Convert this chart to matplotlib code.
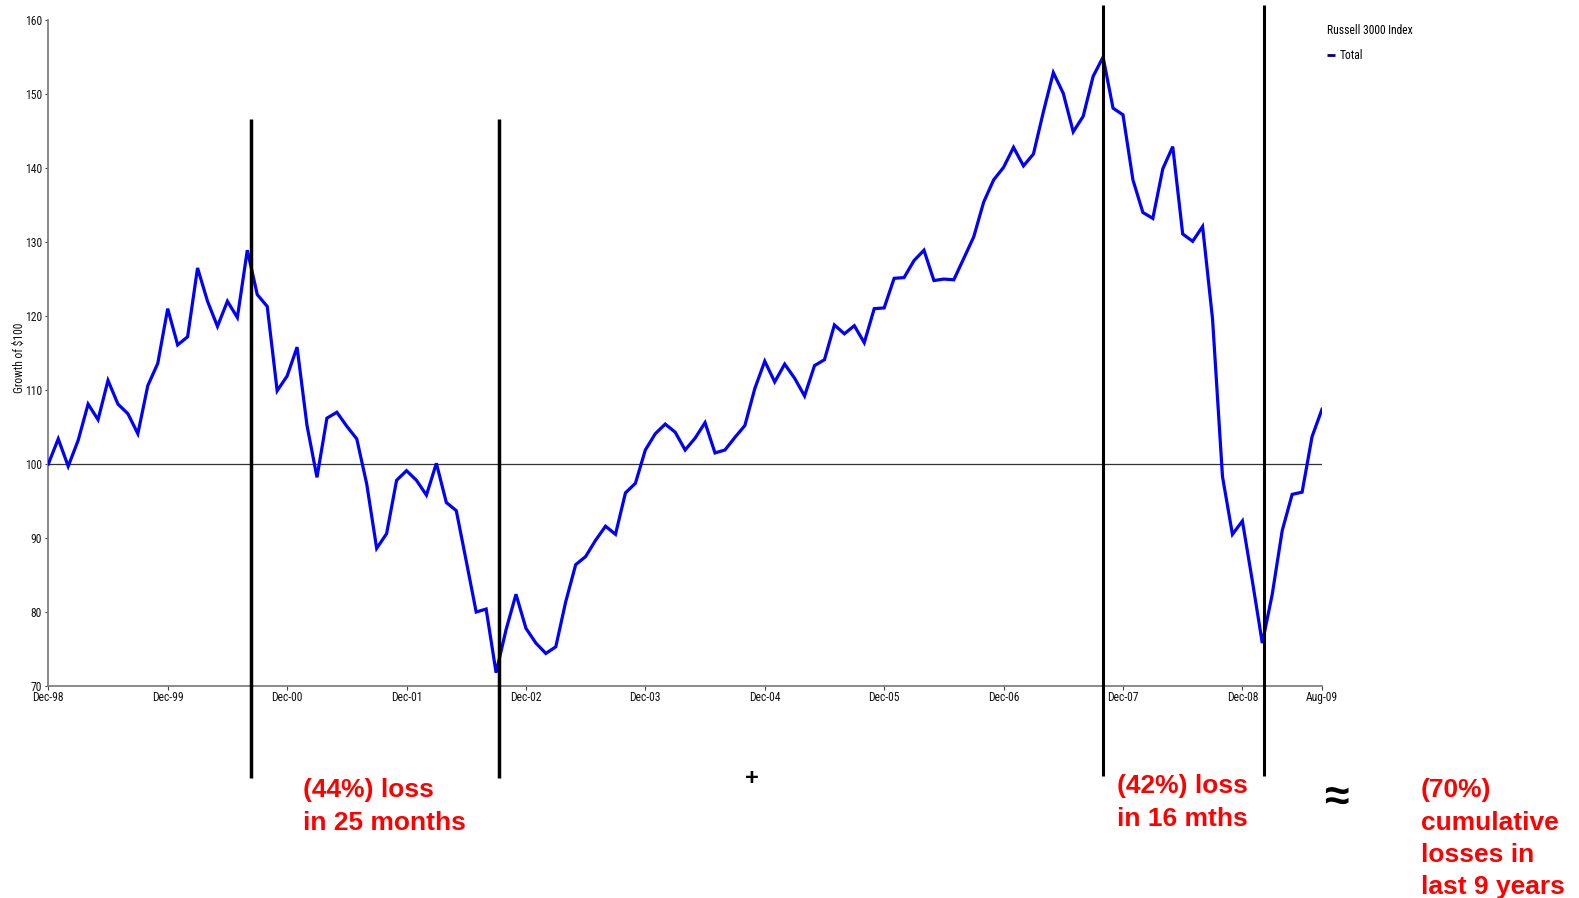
import matplotlib
matplotlib.use("Agg")
import matplotlib.pyplot as plt
from matplotlib.lines import Line2D
from matplotlib import font_manager

# ---------------- data ----------------
# Russell 3000 Index, growth of $100, monthly from Dec-98 to Aug-09
growth_values = [
    100.0, 103.4, 99.7, 103.2, 108.1, 106.0, 111.3, 108.1, 106.8, 104.1,
    110.6, 113.6, 121.0, 116.1, 117.2, 126.5, 122.0, 118.6, 122.0, 119.8,
    128.9, 122.9, 121.3, 109.9, 111.9, 115.8, 105.2, 98.2, 106.2, 107.0,
    105.1, 103.4, 97.3, 88.6, 90.6, 97.8, 99.1, 97.8, 95.8, 100.1,
    94.8, 93.7, 86.9, 80.0, 80.4, 71.8, 77.6, 82.4, 77.8, 75.8,
    74.4, 75.3, 81.4, 86.4, 87.5, 89.7, 91.6, 90.5, 96.1, 97.4,
    101.9, 104.1, 105.4, 104.3, 101.9, 103.5, 105.6, 101.5, 101.9, 103.6,
    105.2, 110.2, 113.9, 111.1, 113.5, 111.6, 109.2, 113.3, 114.1, 118.8,
    117.6, 118.7, 116.4, 121.0, 121.1, 125.1, 125.2, 127.5, 128.9, 124.8,
    125.0, 124.9, 127.8, 130.7, 135.4, 138.4, 140.1, 142.8, 140.3, 141.9,
    147.6, 152.9, 150.1, 144.9, 147.0, 152.4, 155.0, 148.1, 147.2, 138.4,
    134.0, 133.2, 139.9, 142.9, 131.1, 130.1, 132.1, 119.6, 98.3, 90.5,
    92.3, 84.2, 75.8, 82.4, 91.0, 95.9, 96.2, 103.7, 107.4,
]
month_index = list(range(len(growth_values)))   # 0 = Dec-98 ... 128 = Aug-09

tick_months = [0, 12, 24, 36, 48, 60, 72, 84, 96, 108, 120, 128]
tick_labels = ["Dec-98", "Dec-99", "Dec-00", "Dec-01", "Dec-02", "Dec-03",
               "Dec-04", "Dec-05", "Dec-06", "Dec-07", "Dec-08", "Aug-09"]
y_ticks = [70, 80, 90, 100, 110, 120, 130, 140, 150, 160]
baseline_value = 100

# event markers (month index) with vertical extent in data units
event_months = [20.34, 45.29, 105.97, 122.2]
event_top = [146.7, 146.7, 162.0, 162.0]
event_bottom = [57.5, 57.5, 57.9, 57.9]

legend_title = "Russell 3000 Index"
series_name = "Total"
ylabel_text = "Growth of $100"

# ---------------- fonts ----------------
installed = {f.name for f in font_manager.fontManager.ttflist}
narrow_candidates = ['Liberation Sans Narrow', 'Arial Narrow', 'Roboto Condensed',
                     'Open Sans Condensed', 'DejaVu Sans Condensed']
narrow = next((n for n in narrow_candidates if n in installed), None)
if narrow is not None:
    small_family = [narrow, 'Liberation Sans', 'DejaVu Sans']
    small_size = 8.4
else:
    small_family = ['Liberation Sans', 'DejaVu Sans']
    small_size = 7.4
plt.rcParams['font.family'] = small_family

# ---------------- figure ----------------
W, H = 1579, 898
fig = plt.figure(figsize=(W / 100, H / 100), dpi=100)
ax_left, ax_right, ax_top, ax_bottom = 48.3, 1322.0, 20.1, 686.0
ax = fig.add_axes([ax_left / W, 1 - ax_bottom / H,
                   (ax_right - ax_left) / W, (ax_bottom - ax_top) / H])

ax.axhline(baseline_value, color='#333333', lw=0.9, zorder=1)
ax.plot(month_index, growth_values, color='#0000FF', lw=2.3, zorder=3,
        solid_joinstyle='miter')

for m, t, b, lw in zip(event_months, event_top, event_bottom, [2.5, 2.5, 2.2, 2.2]):
    ax.plot([m, m], [b, t], color='black', lw=lw, clip_on=False, zorder=4,
            solid_capstyle='butt')

ax.set_xlim(0, 128)
ax.set_ylim(70, 160)
ax.set_xticks(tick_months)
ax.set_xticklabels(tick_labels)
ax.set_yticks(y_ticks)

for s in ['top', 'right']:
    ax.spines[s].set_visible(False)
for s in ['left', 'bottom']:
    ax.spines[s].set_color('#808080')
    ax.spines[s].set_linewidth(1.3)

ax.tick_params(axis='x', direction='out', length=3, width=0.8, color='#404040',
               pad=0.5, labelsize=small_size, labelcolor='#111111')
ax.tick_params(axis='y', direction='out', length=2.5, width=0.8, color='#404040',
               pad=2, labelsize=small_size, labelcolor='#111111')

ax.set_ylabel(ylabel_text, fontsize=small_size, color='#111111')
ax.yaxis.set_label_coords((26 - ax_left) / (ax_right - ax_left),
                          (ax_bottom - 357.5) / (ax_bottom - ax_top))

# legend
handle = Line2D([], [], color='#000080', lw=2.0, solid_capstyle='butt')
leg = fig.legend([handle], [series_name], title=legend_title, loc='upper left',
                 bbox_to_anchor=(1327 / W, 1 - 24 / H), frameon=False,
                 fontsize=small_size, title_fontsize=small_size, handlelength=0.7,
                 handletextpad=0.4, borderpad=0, borderaxespad=0,
                 labelspacing=1.05, alignment='left')

# annotations
def ftxt(x, y, s, **kw):
    fig.text(x / W, 1 - y / H, s, **kw)

red_kw = dict(color='#FF0000', fontsize=19, fontweight='bold',
              family=['Liberation Sans', 'DejaVu Sans'], va='baseline', ha='left')
ftxt(303, 797, "(44%) loss", **red_kw)
ftxt(303, 829.5, "in 25 months", **red_kw)
ftxt(1117, 793, "(42%) loss", **red_kw)
ftxt(1117, 825.5, "in 16 mths", **red_kw)
ftxt(1421, 797, "(70%)", **red_kw)
ftxt(1421, 830, "cumulative", **red_kw)
ftxt(1421, 862, "losses in", **red_kw)
ftxt(1421, 894, "last 9 years", **red_kw)

ftxt(752, 778.5, "+", color='black', fontsize=17, fontweight='bold',
     family=['Liberation Sans', 'DejaVu Sans'], ha='center', va='center')
ftxt(1336, 799, "\u2248", color='black', fontsize=32, fontweight='bold',
     family=['Liberation Sans', 'DejaVu Sans'], ha='center', va='center')

fig.savefig("out.png", dpi=100)
